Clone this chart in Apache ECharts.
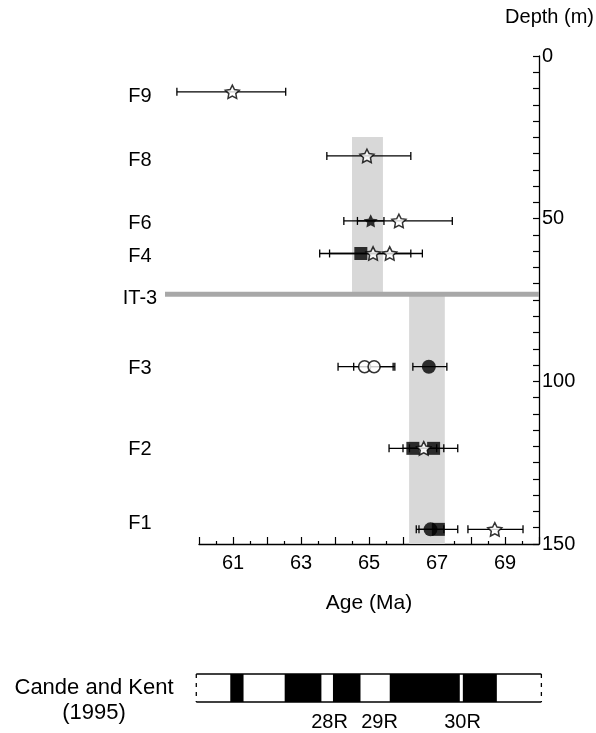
<!DOCTYPE html>
<html><head><meta charset="utf-8">
<script src="https://cdn.jsdelivr.net/npm/echarts@6/dist/echarts.min.js"></script>
<style>html,body{margin:0;padding:0;background:#fff}#c{width:596px;height:733px}</style>
</head><body><div id="c"></div>
<script>
// ---- data ----
const rowNames = ['F9','F8','F6','F4','IT-3','F3','F2','F1'];
const rowLabelDepths = [12.3, 32, 51.6, 61.5, 74.4, 95.9, 121.1, 143.6];

// [age (Ma), depth (m)]
const whiteStars   = [[60.98,11.0],[64.94,30.7],[65.88,50.7],[65.12,60.7],[65.61,60.7],[66.61,120.6],[68.70,145.5]];
const blackStars   = [[65.05,50.7]];
const blackSquares = [[64.76,60.7],[66.29,120.6],[66.90,120.6],[67.04,145.5]];
const whiteCircles = [[64.87,95.5],[65.15,95.5]];
const blackCircles = [[66.76,95.5],[66.81,145.5]];
// [age low, age high, depth]
const errorBars = [
  [59.35,62.55,11.0],
  [63.76,66.23,30.7],
  [64.26,65.44,50.7],
  [64.66,67.45,50.7],
  [63.55,66.23,60.7],
  [63.84,66.57,60.7],
  [64.09,65.71,95.5],
  [64.55,65.76,95.5],
  [66.29,67.29,95.5],
  [65.59,66.99,120.6],
  [66.00,67.20,120.6],
  [66.19,67.61,120.6],
  [66.39,67.20,145.5],
  [66.47,67.61,145.5],
  [67.91,69.53,145.5]
];
// shaded age bands: [age low, age high, depth top, depth bottom]
const ageBands = [[64.50,65.41,24.9,73.2],[66.18,67.23,73.2,150]];
// IT-3 horizon: [age start, age end, depth]
const it3Line = [[59.0,70.0,73.2]];

// magnetostratigraphy (Cande and Kent 1995): normal (black) intervals
const normalChrons = [[60.92,61.31],[62.52,63.60],[63.94,64.75],[65.61,67.67],[67.76,68.76]];
const barExtent = [[59.92,70.07]];
const chronLabels = ['28R','29R','30R'];
const chronLabelAges = [63.84,65.31,67.75];

const xTicks = [61,63,65,67,69];

// ---- chart ----
const FONT = 'Liberation Sans';
const starPath = 'path://M10 0 L12.94 5.96 L19.51 6.91 L14.76 11.55 L15.88 18.09 L10 15 L4.12 18.09 L5.24 11.55 L0.49 6.91 L7.06 5.96 Z';
const chart = echarts.init(document.getElementById('c'), null, {renderer:'canvas'});

const option = {
  animation:false,
  backgroundColor:'#fff',
  grid:[
    {left:199, right:57, top:56, height:488, outerBoundsMode:'none', containLabel:false},
    {left:199, right:57, top:674, height:28, outerBoundsMode:'none', containLabel:false}
  ],
  xAxis:[
    {gridIndex:0, type:'value', min:60, max:70, interval:1, position:'bottom',
     axisLine:{show:true, onZero:false, lineStyle:{color:'#000', width:1.3}},
     axisTick:{show:true, inside:true, length:7, lineStyle:{color:'#000', width:1.2}},
     minorTick:{show:true, splitNumber:2, length:3, lineStyle:{color:'#000', width:1.2}},
     splitLine:{show:false},
     axisLabel:{margin:9, fontSize:20, fontFamily:FONT, color:'#000',
       formatter:v=> xTicks.indexOf(v)>=0 ? String(v) : ''},
     name:'Age (Ma)', nameLocation:'middle', nameGap:49,
     nameTextStyle:{fontSize:21, fontFamily:FONT, color:'#000'}},
    {gridIndex:1, type:'value', min:60, max:70, show:false}
  ],
  yAxis:[
    {gridIndex:0, type:'value', min:0, max:150, interval:50, inverse:true, position:'right',
     axisLine:{show:true, onZero:false, lineStyle:{color:'#000', width:1.3}},
     axisTick:{show:true, inside:true, length:6, lineStyle:{color:'#000', width:1.2}},
     minorTick:{show:true, splitNumber:10, length:6, lineStyle:{color:'#000', width:1.2}},
     splitLine:{show:false},
     axisLabel:{margin:3, fontSize:20, fontFamily:FONT, color:'#000'},
     name:'Depth (m)', nameLocation:'start', nameGap:29,
     nameTextStyle:{fontSize:20, fontFamily:FONT, color:'#000', align:'right', padding:[0,-55,0,0]}},
    {gridIndex:1, type:'value', min:0, max:1, show:false}
  ],
  graphic:[
    {type:'text', x:94, y:688, style:{text:'Cande and Kent', fontSize:22, fontFamily:FONT, fill:'#000', align:'center', verticalAlign:'middle'}},
    {type:'text', x:94, y:713, style:{text:'(1995)', fontSize:22, fontFamily:FONT, fill:'#000', align:'center', verticalAlign:'middle'}}
  ],
  series:[
    {type:'custom', xAxisIndex:0, yAxisIndex:0, clip:false, z:1, silent:true,
     data:ageBands,
     renderItem(params, api){
       const a = api.coord([api.value(0), api.value(2)]);
       const b = api.coord([api.value(1), api.value(3)]);
       return {type:'rect', shape:{x:a[0], y:a[1], width:b[0]-a[0], height:b[1]-a[1]}, style:{fill:'#d8d8d8'}};
     }},
    {type:'custom', xAxisIndex:0, yAxisIndex:0, clip:false, z:2, silent:true,
     data:it3Line,
     renderItem(params, api){
       const a = api.coord([api.value(0), api.value(2)]);
       const b = api.coord([api.value(1), api.value(2)]);
       return {type:'line', shape:{x1:a[0], y1:a[1], x2:b[0], y2:b[1]}, style:{stroke:'#a8a8a8', lineWidth:5}};
     }},
    {type:'custom', xAxisIndex:0, yAxisIndex:0, clip:false, z:3, silent:true,
     data:errorBars,
     renderItem(params, api){
       const p1 = api.coord([api.value(0), api.value(2)]);
       const p2 = api.coord([api.value(1), api.value(2)]);
       const h = 4, st = {stroke:'#000', lineWidth:1.3};
       return {type:'group', children:[
         {type:'line', shape:{x1:p1[0], y1:p1[1], x2:p2[0], y2:p2[1]}, style:st},
         {type:'line', shape:{x1:p1[0], y1:p1[1]-h, x2:p1[0], y2:p1[1]+h}, style:st},
         {type:'line', shape:{x1:p2[0], y1:p2[1]-h, x2:p2[0], y2:p2[1]+h}, style:st}
       ]};
     }},
    {type:'scatter', name:'black circle', xAxisIndex:0, yAxisIndex:0, z:4, data:blackCircles,
     symbol:'circle', symbolSize:14, itemStyle:{color:'#000'}},
    {type:'scatter', name:'black square', xAxisIndex:0, yAxisIndex:0, z:5, data:blackSquares,
     symbol:'rect', symbolSize:13, itemStyle:{color:'#000'}},
    {type:'scatter', name:'white circle', xAxisIndex:0, yAxisIndex:0, z:5, data:whiteCircles,
     symbol:'circle', symbolSize:12, itemStyle:{color:'#fff', borderColor:'#000', borderWidth:1.6}},
    {type:'scatter', name:'black star', xAxisIndex:0, yAxisIndex:0, z:6, data:blackStars,
     symbol:starPath, symbolKeepAspect:true, symbolSize:14, itemStyle:{color:'#000'}},
    {type:'scatter', name:'white star', xAxisIndex:0, yAxisIndex:0, z:6, data:whiteStars,
     symbol:starPath, symbolKeepAspect:true, symbolSize:14, itemStyle:{color:'#fff', borderColor:'#000', borderWidth:1.5}},
    {type:'custom', xAxisIndex:0, yAxisIndex:0, clip:false, z:7, silent:true,
     data:rowLabelDepths.map(d=>[60,d]),
     renderItem(params, api){
       const p = api.coord([api.value(0), api.value(1)]);
       return {type:'text', style:{text:rowNames[params.dataIndex], x:p[0]-59, y:p[1],
         fontSize:20, fontFamily:FONT, fill:'#000', align:'center', verticalAlign:'middle'}};
     }},
    // magnetostratigraphy bar
    {type:'custom', xAxisIndex:1, yAxisIndex:1, clip:false, silent:true,
     data:normalChrons,
     renderItem(params, api){
       const a = api.coord([api.value(0), 1]);
       const b = api.coord([api.value(1), 0]);
       return {type:'rect', shape:{x:a[0], y:a[1], width:b[0]-a[0], height:b[1]-a[1]}, style:{fill:'#000'}};
     }},
    {type:'custom', xAxisIndex:1, yAxisIndex:1, clip:false, silent:true,
     data:barExtent,
     renderItem(params, api){
       const a = api.coord([api.value(0), 1]);
       const b = api.coord([api.value(1), 0]);
       const st = {stroke:'#000', lineWidth:1.3};
       const ds = {stroke:'#000', lineWidth:1.3, lineDash:[4,5]};
       return {type:'group', children:[
         {type:'line', shape:{x1:a[0], y1:a[1], x2:b[0], y2:a[1]}, style:st},
         {type:'line', shape:{x1:a[0], y1:b[1], x2:b[0], y2:b[1]}, style:st},
         {type:'line', shape:{x1:a[0], y1:a[1], x2:a[0], y2:b[1]}, style:ds},
         {type:'line', shape:{x1:b[0], y1:a[1], x2:b[0], y2:b[1]}, style:ds}
       ]};
     }},
    {type:'custom', xAxisIndex:1, yAxisIndex:1, clip:false, silent:true,
     data:chronLabelAges.map(a=>[a,0]),
     renderItem(params, api){
       const p = api.coord([api.value(0), 0]);
       return {type:'text', style:{text:chronLabels[params.dataIndex], x:p[0], y:p[1]+20,
         fontSize:20, fontFamily:FONT, fill:'#000', align:'center', verticalAlign:'middle'}};
     }}
  ]
};
chart.setOption(option);
</script>
</body></html>
